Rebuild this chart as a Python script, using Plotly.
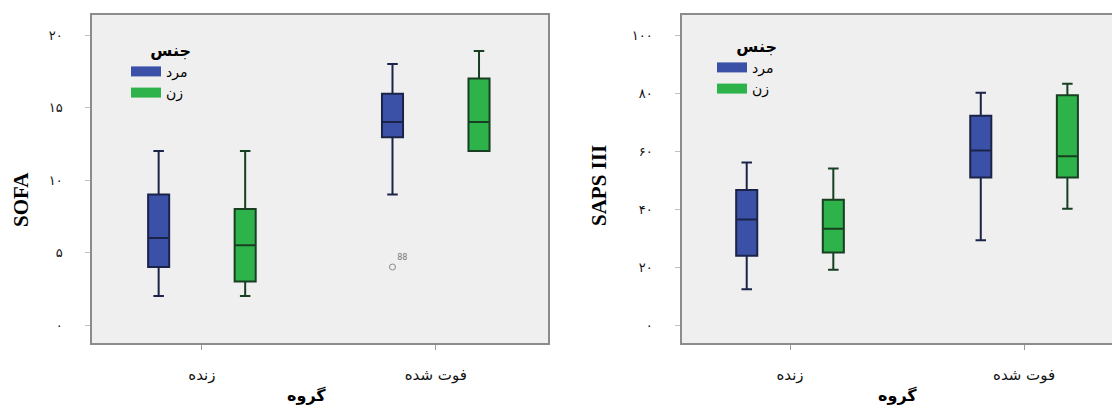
import plotly.graph_objects as go

# ---------------- data ----------------
group_labels = ["زنده", "فوت شده"]
group_pos = [0, 1]
sex_labels = ["مرد", "زن"]

# SOFA (left panel)
sofa_m_low = [2, 9]
sofa_m_q1 = [4, 12.95]
sofa_m_med = [6, 14]
sofa_m_q3 = [9, 15.95]
sofa_m_high = [12, 18]
sofa_f_low = [2, 12]
sofa_f_q1 = [3, 12]
sofa_f_med = [5.5, 14]
sofa_f_q3 = [8, 17]
sofa_f_high = [12, 18.9]
sofa_outlier_group = [1]
sofa_outlier_value = [4]
sofa_outlier_label = ["88"]
sofa_ticks = [0, 5, 10, 15, 20]
sofa_ticktext = ["۰", "۵", "۱۰", "۱۵", "۲۰"]

# SAPS III (right panel)
saps_m_low = [12.3, 29.2]
saps_m_q1 = [23.9, 50.9]
saps_m_med = [36.4, 60.2]
saps_m_q3 = [46.6, 72.2]
saps_m_high = [56, 80.1]
saps_f_low = [19.1, 40.1]
saps_f_q1 = [25, 50.9]
saps_f_med = [33.2, 58.2]
saps_f_q3 = [43.2, 79.2]
saps_f_high = [54, 83.2]
saps_ticks = [0, 20, 40, 60, 80, 100]
saps_ticktext = ["۰", "۲۰", "۴۰", "۶۰", "۸۰", "۱۰۰"]

# ---------------- style ----------------
BLUE = "#3a51a7"
GREEN = "#2eb34a"
BLUE_LINE = "#1b2448"
GREEN_LINE = "#183f22"
OFFSET = 0.185
BOXW = 0.09
FONT = "DejaVu Sans, Liberation Serif"
SERIF = "Liberation Serif, Times New Roman, serif"
W, H, PAD = 1120, 407, 8  # page body margin compensation


def px(x):
    return (x - PAD) / W


def py(y):
    return 1 - (y - PAD) / H


fig = go.Figure()


def add_boxes(xa, ya, low, q1, med, q3, high, offset, fill, line):
    fig.add_trace(go.Box(
        x=[p + offset for p in group_pos],
        lowerfence=low, q1=q1, median=med, q3=q3, upperfence=high,
        width=BOXW, whiskerwidth=0.5,
        fillcolor=fill, line=dict(color=line, width=2),
        showlegend=False, xaxis=xa, yaxis=ya, hoverinfo="skip",
    ))


add_boxes("x", "y", sofa_m_low, sofa_m_q1, sofa_m_med, sofa_m_q3, sofa_m_high, -OFFSET, BLUE, BLUE_LINE)
add_boxes("x", "y", sofa_f_low, sofa_f_q1, sofa_f_med, sofa_f_q3, sofa_f_high, OFFSET, GREEN, GREEN_LINE)
add_boxes("x2", "y2", saps_m_low, saps_m_q1, saps_m_med, saps_m_q3, saps_m_high, -OFFSET, BLUE, BLUE_LINE)
add_boxes("x2", "y2", saps_f_low, saps_f_q1, saps_f_med, saps_f_q3, saps_f_high, OFFSET, GREEN, GREEN_LINE)

# outlier
fig.add_trace(go.Scatter(
    x=[group_pos[g] - OFFSET for g in sofa_outlier_group], y=sofa_outlier_value,
    mode="markers+text", text=sofa_outlier_label, textposition="top right",
    textfont=dict(size=8, color="#777777", family=FONT),
    marker=dict(symbol="circle-open", size=6, color="#888888", line=dict(width=1)),
    showlegend=False, xaxis="x", yaxis="y", hoverinfo="skip",
))

# legend entries
for leg, xa, ya in [("legend", "x", "y"), ("legend2", "x2", "y2")]:
    for name, col in zip(sex_labels, [BLUE, GREEN]):
        fig.add_trace(go.Scatter(
            x=[None], y=[None], mode="lines", name=name,
            line=dict(color=col, width=13), legend=leg,
            xaxis=xa, yaxis=ya,
        ))

ydom = [py(343), py(15)]
frame = "#8c8c8c"

common_x = dict(
    tickvals=group_pos, ticktext=group_labels, ticks="outside", ticklen=5,
    tickcolor="#9a9a9a", showline=True, linecolor=frame, linewidth=1.5,
    mirror=True, showgrid=False, zeroline=False, ticklabelstandoff=12,
    tickfont=dict(family=FONT, size=15, color="#111111"),
)
common_y = dict(
    ticks="outside", ticklen=5, tickcolor="#c0c0c0", showline=True,
    linecolor=frame, linewidth=1.5, showgrid=False, zeroline=False,
    ticklabelstandoff=20, tickfont=dict(family=FONT, size=13, color="#111111"),
)


def legend_cfg(x, y):
    return dict(
        x=x, y=y, xanchor="left", yanchor="top",
        bgcolor="rgba(0,0,0,0)", itemwidth=30,
        title=dict(text="<b>جنس</b>", side="top right",
                   font=dict(family=FONT, size=16, color="#000")),
        font=dict(family=FONT, size=14, color="#000"),
    )


fig.update_layout(
    width=W, height=H,
    margin=dict(l=0, r=0, t=0, b=0),
    paper_bgcolor="white",
    plot_bgcolor="#efefef",
    xaxis=dict(domain=[px(92), px(548)], range=[-0.47, 1.48], anchor="y", **common_x),
    yaxis=dict(domain=ydom, range=[-1.24, 21.38], tickvals=sofa_ticks, ticktext=sofa_ticktext,
               anchor="x", mirror=True, **common_y),
    xaxis2=dict(domain=[px(682), 1.0], range=[-0.4615, 1.444], anchor="y2", **common_x),
    yaxis2=dict(domain=ydom, range=[-6.2, 106.9], tickvals=saps_ticks, ticktext=saps_ticktext,
                anchor="x2", mirror=False, **common_y),
    legend=legend_cfg(px(126), py(35)),
    legend2=legend_cfg(px(712), py(31)),
    annotations=[
        dict(text="<b>SOFA</b>", x=px(21), y=py(200), xref="paper", yref="paper",
             xanchor="center", yanchor="middle",
             textangle=-90, showarrow=False, font=dict(family=SERIF, size=21, color="#000")),
        dict(text="<b>SAPS III</b>", x=px(599), y=py(186), xref="paper", yref="paper",
             xanchor="center", yanchor="middle",
             textangle=-90, showarrow=False, font=dict(family=SERIF, size=21, color="#000")),
        dict(text="<b>گروه</b>", x=px(306), y=py(395), xref="paper", yref="paper",
             xanchor="center", yanchor="middle",
             showarrow=False, font=dict(family=FONT, size=16, color="#000")),
        dict(text="<b>گروه</b>", x=px(897), y=py(395), xref="paper", yref="paper",
             xanchor="center", yanchor="middle",
             showarrow=False, font=dict(family=FONT, size=16, color="#000")),
    ],
)

fig.write_html("out.html")
